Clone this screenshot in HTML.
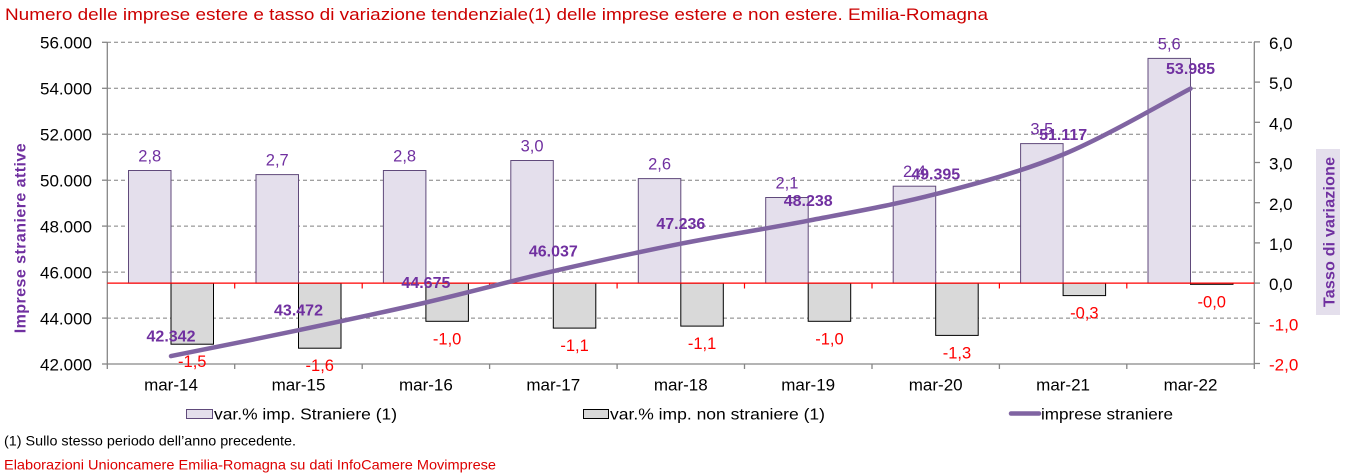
<!DOCTYPE html>
<html>
<head>
<meta charset="utf-8">
<style>
html,body{margin:0;padding:0;background:#fff;}
svg{display:block;}
text{font-family:"Liberation Sans",Arial,sans-serif;}
</style>
</head>
<body>
<svg width="1356" height="474" viewBox="0 0 1356 474" xmlns="http://www.w3.org/2000/svg">
<rect x="0" y="0" width="1356" height="474" fill="#fff"/>
<!-- title -->
<text x="5" y="20" font-size="16.5" fill="#cc0000" textLength="983" lengthAdjust="spacingAndGlyphs">Numero delle imprese estere e tasso di variazione tendenziale(1) delle imprese estere e non estere. Emilia-Romagna</text>

<!-- gridlines -->
<g stroke="#808080" stroke-width="1" stroke-dasharray="4,3">
<line x1="107" y1="42.3" x2="1254" y2="42.3"/>
<line x1="107" y1="88.3" x2="1254" y2="88.3"/>
<line x1="107" y1="134.2" x2="1254" y2="134.2"/>
<line x1="107" y1="180.2" x2="1254" y2="180.2"/>
<line x1="107" y1="226.1" x2="1254" y2="226.1"/>
<line x1="107" y1="272.1" x2="1254" y2="272.1"/>
<line x1="107" y1="318.1" x2="1254" y2="318.1"/>
</g>

<!-- axes -->
<g stroke="#868686" stroke-width="1.3" fill="none">
<line x1="107.3" y1="42" x2="107.3" y2="364"/>
<line x1="1254.3" y1="42" x2="1254.3" y2="364"/>
<line x1="107.3" y1="364" x2="1254.3" y2="364"/>
<line x1="102" y1="42.3" x2="107" y2="42.3"/>
<line x1="102" y1="88.3" x2="107" y2="88.3"/>
<line x1="102" y1="134.2" x2="107" y2="134.2"/>
<line x1="102" y1="180.2" x2="107" y2="180.2"/>
<line x1="102" y1="226.1" x2="107" y2="226.1"/>
<line x1="102" y1="272.1" x2="107" y2="272.1"/>
<line x1="102" y1="318.1" x2="107" y2="318.1"/>
<line x1="102" y1="364" x2="107" y2="364"/>
<line x1="1254" y1="41.9" x2="1260" y2="41.9"/>
<line x1="1254" y1="82.1" x2="1260" y2="82.1"/>
<line x1="1254" y1="122.3" x2="1260" y2="122.3"/>
<line x1="1254" y1="162.5" x2="1260" y2="162.5"/>
<line x1="1254" y1="202.7" x2="1260" y2="202.7"/>
<line x1="1254" y1="242.9" x2="1260" y2="242.9"/>
<line x1="1254" y1="283.1" x2="1260" y2="283.1"/>
<line x1="1254" y1="323.3" x2="1260" y2="323.3"/>
<line x1="1254" y1="363.5" x2="1260" y2="363.5"/>
<line x1="107.3" y1="364" x2="107.3" y2="369"/>
<line x1="234.7" y1="364" x2="234.7" y2="369"/>
<line x1="362.2" y1="364" x2="362.2" y2="369"/>
<line x1="489.6" y1="364" x2="489.6" y2="369"/>
<line x1="617.1" y1="364" x2="617.1" y2="369"/>
<line x1="744.5" y1="364" x2="744.5" y2="369"/>
<line x1="872.0" y1="364" x2="872.0" y2="369"/>
<line x1="999.4" y1="364" x2="999.4" y2="369"/>
<line x1="1126.8" y1="364" x2="1126.8" y2="369"/>
<line x1="1254.3" y1="364" x2="1254.3" y2="369"/>
</g>

<!-- bars straniere -->
<g fill="#e4dfec" stroke="#604a7b" stroke-width="1">
<rect x="128.5" y="170.5" width="42.5" height="112.6"/>
<rect x="256.0" y="174.6" width="42.5" height="108.5"/>
<rect x="383.4" y="170.5" width="42.5" height="112.6"/>
<rect x="510.8" y="160.5" width="42.5" height="122.6"/>
<rect x="638.3" y="178.6" width="42.5" height="104.5"/>
<rect x="765.7" y="197.5" width="42.5" height="85.6"/>
<rect x="893.2" y="186.2" width="42.5" height="96.9"/>
<rect x="1020.6" y="143.6" width="42.5" height="139.5"/>
<rect x="1148.0" y="58.4" width="42.5" height="224.7"/>
</g>
<!-- bars non straniere -->
<g fill="#d9d9d9" stroke="#000" stroke-width="1">
<rect x="171.0" y="283.1" width="42.5" height="61.1"/>
<rect x="298.5" y="283.1" width="42.5" height="65.1"/>
<rect x="425.9" y="283.1" width="42.5" height="38.2"/>
<rect x="553.3" y="283.1" width="42.5" height="45.0"/>
<rect x="680.8" y="283.1" width="42.5" height="43.0"/>
<rect x="808.2" y="283.1" width="42.5" height="38.2"/>
<rect x="935.7" y="283.1" width="42.5" height="52.3"/>
<rect x="1063.1" y="283.1" width="42.5" height="12.5"/>
<rect x="1190.5" y="283.1" width="42.5" height="1.2"/>
</g>

<!-- zero line -->
<g stroke="#ff0000" stroke-width="1.2">
<line x1="107.3" y1="283.1" x2="1254.3" y2="283.1"/>
<line x1="234.7" y1="283.1" x2="234.7" y2="288.5"/>
<line x1="362.2" y1="283.1" x2="362.2" y2="288.5"/>
<line x1="489.6" y1="283.1" x2="489.6" y2="288.5"/>
<line x1="617.1" y1="283.1" x2="617.1" y2="288.5"/>
<line x1="744.5" y1="283.1" x2="744.5" y2="288.5"/>
<line x1="872.0" y1="283.1" x2="872.0" y2="288.5"/>
<line x1="999.4" y1="283.1" x2="999.4" y2="288.5"/>
<line x1="1126.8" y1="283.1" x2="1126.8" y2="288.5"/>
</g>

<!-- line series -->
<path d="M171,356.1 C192.25,351.78 256.02,339.13 298.5,330.2 C340.98,321.27 383.43,312.33 425.9,302.5 C468.37,292.67 510.82,281 553.3,271.2 C595.78,261.4 638.32,252.12 680.8,243.7 C723.28,235.28 765.72,228.97 808.2,220.7 C850.68,212.43 893.22,205.13 935.7,194.1 C978.18,183.07 1020.63,172.08 1063.1,154.5 C1105.57,136.92 1169.27,99.58 1190.5,88.6" fill="none" stroke="#8064a2" stroke-width="4.5" stroke-linecap="round" stroke-linejoin="round"/>

<!-- straniere labels -->
<g font-size="16.5" fill="#7030a0" text-anchor="middle">
<text x="149.75" y="161.5">2,8</text>
<text x="277.25" y="165.6">2,7</text>
<text x="404.65" y="161.5">2,8</text>
<text x="532.05" y="151.5">3,0</text>
<text x="659.55" y="169.6">2,6</text>
<text x="786.95" y="188.5">2,1</text>
<text x="914.45" y="177.2">2,4</text>
<text x="1041.85" y="134.6">3,5</text>
<text x="1169.25" y="49.4">5,6</text>
</g>
<!-- non straniere labels -->
<g font-size="16.5" fill="#ff0000" text-anchor="middle">
<text x="192.25" y="367.2">-1,5</text>
<text x="319.75" y="371.2">-1,6</text>
<text x="447.15" y="344.3">-1,0</text>
<text x="574.55" y="351.1">-1,1</text>
<text x="702.05" y="349.1">-1,1</text>
<text x="829.45" y="344.3">-1,0</text>
<text x="956.95" y="358.4">-1,3</text>
<text x="1084.35" y="318.6">-0,3</text>
<text x="1211.75" y="307.3">-0,0</text>
</g>
<!-- line labels -->
<g font-size="16" font-weight="bold" fill="#7030a0" text-anchor="middle">
<text x="171" y="341.6">42.342</text>
<text x="298.5" y="315.7">43.472</text>
<text x="425.9" y="288.0">44.675</text>
<text x="553.3" y="256.7">46.037</text>
<text x="680.8" y="229.2">47.236</text>
<text x="808.2" y="206.2">48.238</text>
<text x="935.7" y="179.6">49.395</text>
<text x="1063.1" y="140.0">51.117</text>
<text x="1190.5" y="74.1">53.985</text>
</g>

<!-- left axis labels -->
<g font-size="17" fill="#000" text-anchor="end">
<text x="92" y="48.6">56.000</text>
<text x="92" y="94.6">54.000</text>
<text x="92" y="140.5">52.000</text>
<text x="92" y="186.5">50.000</text>
<text x="92" y="232.4">48.000</text>
<text x="92" y="278.4">46.000</text>
<text x="92" y="324.4">44.000</text>
<text x="92" y="370.3">42.000</text>
</g>
<!-- right axis labels -->
<g font-size="17" fill="#000">
<text x="1269" y="49">6,0</text>
<text x="1269" y="89.2">5,0</text>
<text x="1269" y="129.4">4,0</text>
<text x="1269" y="169.6">3,0</text>
<text x="1269" y="209.8">2,0</text>
<text x="1269" y="250">1,0</text>
<text x="1269" y="290.2">0,0</text>
<text x="1269" y="330.4" fill="#ff0000">-1,0</text>
<text x="1269" y="370.6" fill="#ff0000">-2,0</text>
</g>

<!-- category labels -->
<g font-size="17" fill="#000" text-anchor="middle">
<text x="171" y="390.5">mar-14</text>
<text x="298.5" y="390.5">mar-15</text>
<text x="425.9" y="390.5">mar-16</text>
<text x="553.3" y="390.5">mar-17</text>
<text x="680.8" y="390.5">mar-18</text>
<text x="808.2" y="390.5">mar-19</text>
<text x="935.7" y="390.5">mar-20</text>
<text x="1063.1" y="390.5">mar-21</text>
<text x="1190.5" y="390.5">mar-22</text>
</g>

<!-- axis titles -->
<text transform="translate(25.5,238.3) rotate(-90)" font-size="16" font-weight="bold" fill="#7030a0" text-anchor="middle" textLength="190" lengthAdjust="spacing">Imprese  straniere  attive</text>
<rect x="1316" y="149" width="24" height="166" fill="#e4dfec"/>
<text transform="translate(1334.5,232) rotate(-90)" font-size="16" font-weight="bold" fill="#7030a0" text-anchor="middle" textLength="150" lengthAdjust="spacing">Tasso  di  variazione</text>

<!-- legend -->
<rect x="186.5" y="409.5" width="26" height="9" fill="#e4dfec" stroke="#604a7b" stroke-width="1"/>
<text x="214" y="419.3" font-size="16" fill="#000" textLength="183" lengthAdjust="spacingAndGlyphs">var.% imp. Straniere (1)</text>
<rect x="583.5" y="409.5" width="25" height="9" fill="#d9d9d9" stroke="#000" stroke-width="1"/>
<text x="610" y="419.3" font-size="16" fill="#000" textLength="215" lengthAdjust="spacingAndGlyphs">var.% imp. non straniere (1)</text>
<line x1="1011" y1="413.5" x2="1039" y2="413.5" stroke="#8064a2" stroke-width="4.5" stroke-linecap="round"/>
<text x="1041" y="419.3" font-size="16" fill="#000" textLength="132" lengthAdjust="spacingAndGlyphs">imprese straniere</text>

<!-- footnotes -->
<text x="4" y="445.5" font-size="14" fill="#000" textLength="292" lengthAdjust="spacingAndGlyphs">(1) Sullo stesso periodo dell’anno precedente.</text>
<text x="4" y="469.3" font-size="14" fill="#dd0000" textLength="492" lengthAdjust="spacingAndGlyphs">Elaborazioni Unioncamere Emilia-Romagna su dati InfoCamere Movimprese</text>
</svg>
</body>
</html>
